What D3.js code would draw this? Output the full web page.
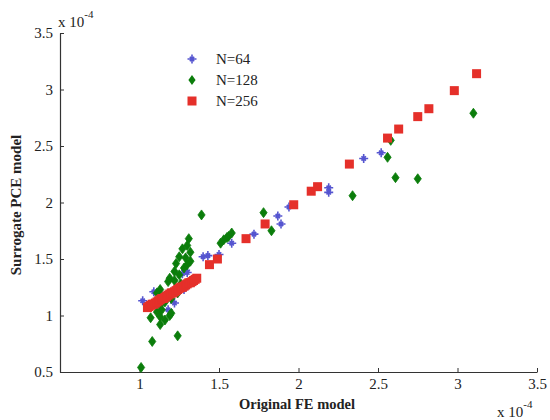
<!DOCTYPE html>
<html>
<head>
<meta charset="utf-8">
<script src="https://cdn.jsdelivr.net/npm/d3@7"></script>
<style>
  html, body { margin: 0; padding: 0; background: #fff; }
  svg { display: block; }
  text { font-family: "Liberation Serif", "Times New Roman", serif; fill: #222; }
</style>
</head>
<body>
<svg id="chart" width="550" height="420"></svg>
<script>
// ---- data (values in units of 1e-4) ----
const seriesNames = ["N=64", "N=128", "N=256"];
const xTicks = [1, 1.5, 2, 2.5, 3, 3.5];
const yTicks = [0.5, 1, 1.5, 2, 2.5, 3, 3.5];

const n64X = [1.02, 1.09, 1.18, 1.22, 1.28, 1.10, 1.15, 1.20, 1.25, 1.30, 1.27, 1.30, 1.29, 1.40, 1.43, 1.50, 1.58, 1.72, 1.87, 1.89, 1.94, 2.19, 2.19, 2.41, 2.52];
const n64Y = [1.13, 1.21, 1.05, 1.11, 1.23, 1.12, 1.17, 1.19, 1.23, 1.27, 1.37, 1.38, 1.40, 1.52, 1.53, 1.54, 1.64, 1.72, 1.88, 1.81, 1.96, 2.13, 2.09, 2.39, 2.44];

const n128X = [1.31, 1.30, 1.27, 1.32, 1.25, 1.29, 1.32, 1.23, 1.28, 1.22, 1.25, 1.19, 1.22, 1.18, 1.13, 1.11, 1.12, 1.13, 1.07, 1.13, 1.13, 1.16, 1.19, 1.20, 1.11, 1.14, 1.08, 1.24, 1.01, 1.16, 1.20, 1.24, 1.26, 1.30,
               1.39, 1.51, 1.53, 1.55, 1.56, 1.58, 1.78, 1.83, 2.34, 2.56, 2.58, 2.61, 2.75, 3.10];
const n128Y = [1.68, 1.62, 1.59, 1.56, 1.52, 1.51, 1.48, 1.46, 1.42, 1.39, 1.36, 1.33, 1.31, 1.30, 1.23, 1.20, 1.15, 1.09, 0.98, 0.99, 0.92, 0.96, 1.00, 1.02, 1.03, 1.05, 0.77, 0.82, 0.54, 1.12, 1.15, 1.20, 1.28, 1.45,
               1.89, 1.64, 1.67, 1.69, 1.70, 1.73, 1.91, 1.75, 2.06, 2.40, 2.55, 2.22, 2.21, 2.79];

const n256X = [1.05, 1.06, 1.07, 1.08, 1.09, 1.10, 1.11, 1.12, 1.13, 1.14, 1.15, 1.16, 1.17, 1.18, 1.19, 1.20, 1.21, 1.22, 1.23, 1.24, 1.25, 1.26, 1.27, 1.28, 1.29, 1.30, 1.31, 1.32, 1.33, 1.34, 1.35, 1.36,
               1.44, 1.49, 1.67, 1.79, 1.97, 2.08, 2.12, 2.32, 2.56, 2.63, 2.75, 2.82, 2.98, 3.12];
const n256Y = [1.07, 1.08, 1.09, 1.10, 1.10, 1.11, 1.12, 1.13, 1.14, 1.15, 1.15, 1.16, 1.17, 1.18, 1.19, 1.20, 1.20, 1.21, 1.22, 1.23, 1.24, 1.25, 1.25, 1.26, 1.27, 1.28, 1.29, 1.29, 1.30, 1.31, 1.32, 1.33,
               1.45, 1.50, 1.68, 1.81, 1.98, 2.10, 2.14, 2.34, 2.57, 2.65, 2.76, 2.83, 2.99, 3.14];

const colors = { blue: "#5555d0", green: "#0b7d0b", red: "#e5302a" };

// ---- layout ----
const svg = d3.select("#chart");
const x = d3.scaleLinear().domain([0.5, 3.5]).range([60, 537]);
const y = d3.scaleLinear().domain([0.5, 3.5]).range([372, 33]);
const axisColor = "#333";

// axes
const xAxis = d3.axisBottom(x).tickValues(xTicks).tickSizeInner(-4).tickSizeOuter(0).tickPadding(6)
  .tickFormat(d3.format("~g"));
const yAxis = d3.axisLeft(y).tickValues(yTicks).tickSizeInner(-4).tickSizeOuter(0).tickPadding(7)
  .tickFormat(d3.format("~g"));

const gx = svg.append("g").attr("transform", `translate(0,${y(0.5)})`).call(xAxis);
const gy = svg.append("g").attr("transform", `translate(${x(0.5)},0)`).call(yAxis);
[gx, gy].forEach(g => {
  g.select(".domain").attr("stroke", axisColor).attr("stroke-width", 1.2);
  g.selectAll(".tick line").attr("stroke", axisColor).attr("stroke-width", 1);
  g.selectAll(".tick text").attr("font-family", "Liberation Serif, serif").attr("font-size", 15).attr("fill", "#222");
});

// markers
function starPath(cx, cy) {
  const a = 4.5, b = 2.2;
  return `M${cx - a},${cy}L${cx + a},${cy}M${cx},${cy - a}L${cx},${cy + a}` +
         `M${cx - b},${cy - b}L${cx + b},${cy + b}M${cx - b},${cy + b}L${cx + b},${cy - b}`;
}
function diamondPath(cx, cy) {
  const w = 3.6, h = 5;
  return `M${cx},${cy - h}L${cx + w},${cy}L${cx},${cy + h}L${cx - w},${cy}Z`;
}
const sq = 9;

const plot = svg.append("g");
// N=64
plot.append("g").selectAll("path").data(n64X.map((v, i) => [v, n64Y[i]])).join("path")
  .attr("d", d => starPath(x(d[0]), y(d[1])))
  .attr("stroke", colors.blue).attr("stroke-width", 1.6).attr("fill", "none");
// N=128
plot.append("g").selectAll("path").data(n128X.map((v, i) => [v, n128Y[i]])).join("path")
  .attr("d", d => diamondPath(x(d[0]), y(d[1])))
  .attr("fill", colors.green).attr("stroke", colors.green).attr("stroke-width", 0.8);
// N=256
plot.append("g").selectAll("rect").data(n256X.map((v, i) => [v, n256Y[i]])).join("rect")
  .attr("x", d => x(d[0]) - sq / 2).attr("y", d => y(d[1]) - sq / 2)
  .attr("width", sq).attr("height", sq)
  .attr("fill", colors.red);

// legend
const legX = 192, legY0 = 59, legDy = 21;
const leg = svg.append("g");
leg.append("path").attr("d", starPath(legX, legY0)).attr("stroke", colors.blue).attr("stroke-width", 1.6).attr("fill", "none");
leg.append("path").attr("d", diamondPath(legX, legY0 + legDy)).attr("fill", colors.green);
leg.append("rect").attr("x", legX - sq / 2).attr("y", legY0 + 2 * legDy - sq / 2).attr("width", sq).attr("height", sq).attr("fill", colors.red);
seriesNames.forEach((n, i) => {
  leg.append("text").attr("x", 216).attr("y", legY0 + i * legDy + 5).attr("font-size", 15).text(n);
});

// axis labels
svg.append("text").attr("x", 297).attr("y", 409).attr("text-anchor", "middle")
  .attr("font-size", 14.5).attr("font-weight", "bold").text("Original FE model");
svg.append("text").attr("transform", "translate(21,205) rotate(-90)").attr("text-anchor", "middle")
  .attr("font-size", 15).attr("font-weight", "bold").text("Surrogate PCE model");

// exponent labels
function expLabel(px, py) {
  const t = svg.append("text").attr("x", px).attr("y", py).attr("font-size", 15);
  t.append("tspan").text("x 10");
  t.append("tspan").attr("dy", -9).attr("font-size", 11).text("-4");
}
expLabel(58, 27);
expLabel(497, 417);
</script>
</body>
</html>
